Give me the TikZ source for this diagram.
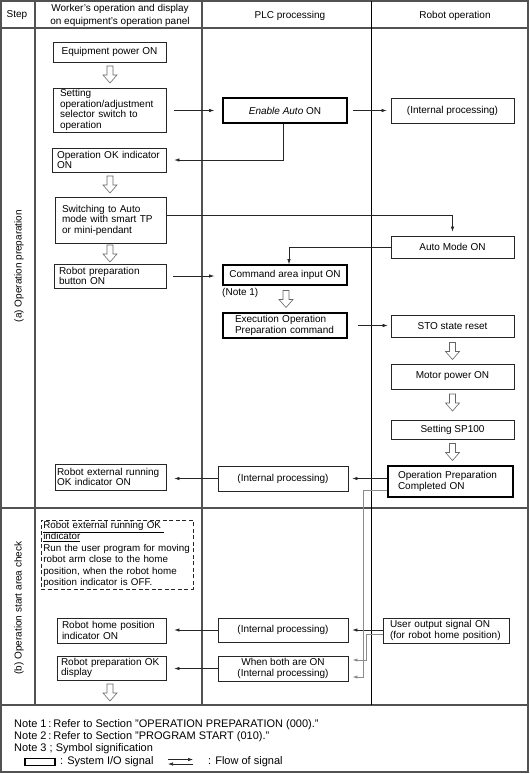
\documentclass[tikz,border=0pt]{standalone}
\usepackage{fontspec}
\setmainfont{Liberation Sans}
\usetikzlibrary{arrows.meta,calc}
\newcommand\bxfont{\fontsize{10}{10.5}\selectfont}
\newcommand\ntfont{\fontsize{11}{12}\selectfont}
\tikzset{
  tbl/.style={draw=black!68, line width=1.4pt},
  bx/.style={draw=black!85, line width=0.7pt, inner ysep=0pt, font=\bxfont},
  cbx/.style 2 args={bx, minimum width=#1, minimum height=#2, align=center, inner xsep=0pt},
  lbx/.style n args={3}{bx, text width=#1, inner xsep=#2, minimum height=#3, align=left},
  io/.style={line width=1.6pt, draw=black},
  arr/.style={draw=black!85, line width=0.6pt, -{Latex[length=5pt,width=3.4pt]}},
  garr/.style={arr, draw=black!45, line width=0.9pt},
  harrow/.style={draw=black!60, line width=0.6pt, fill=white},
  hollow/.pic={\path[harrow] (-3,-8.5) -- (3,-8.5) -- (3,0.5) -- (7,0.5) -- (0,8.5) -- (-7,0.5) -- (-3,0.5) -- cycle;}
}
\hyphenpenalty=10000
\exhyphenpenalty=10000
\begin{document}
\begin{tikzpicture}[x=1pt, y=-1pt]
\useasboundingbox (0,0) rectangle (530,774);
\fill[white] (0,0) rectangle (530,774);
% table frame
\draw[tbl] (1,1) rectangle (528,772);
\draw[tbl] (1,28) -- (528,28);
\draw[tbl] (1,508) -- (528,508);
\draw[tbl] (1,705) -- (528,705);
\draw[tbl] (35,1) -- (35,705);
\draw[tbl] (202,1) -- (202,705);
\draw[black, line width=0.8pt] (371,1) -- (371,705);
% headers
\node[font=\bxfont] (hstep) at (17,15.5) {Step};
\node[font=\fontsize{10}{13.5}\selectfont, align=center] (hwork) at (120,15.3) {Worker's operation and display\\on equipment's operation panel};
\node[font=\bxfont] (hplc) at (290,15.5) {PLC processing};
\node[font=\bxfont] (hrob) at (455,15.5) {Robot operation};
% section labels
\node[font=\bxfont, rotate=90] (seca) at (19,266) {(a) Operation preparation};
\node[font=\bxfont, rotate=90] (secb) at (19,608) {(b) Operation start area check};
% worker column
\node[cbx={113pt}{20pt}] (eq) at (109.5,52) {Equipment power ON};
\node[lbx={99pt}{7pt}{44pt}] (set) at (109.5,110) {Setting\\operation/adjustment\\selector switch to\\operation};
\node[lbx={104pt}{5pt}{24pt}] (opok) at (109,160) {Operation OK indicator\\ON};
\node[lbx={97pt}{7pt}{46pt}] (sw) at (110.5,220) {\mbox{Switching to Auto}\\\mbox{mode with smart TP}\\\mbox{or mini-pendant}};
\node[lbx={102pt}{5pt}{24pt}] (rp) at (110,276) {Robot preparation\\button ON};
\node[lbx={107pt}{2pt}{26pt}] (rext) at (110.5,477) {\mbox{Robot external running}\\OK indicator ON};
\node[draw=black!85, line width=0.6pt, dash pattern=on 4pt off 2.5pt, anchor=north west, text width=148pt, inner xsep=2pt, inner ysep=1pt, minimum height=68pt, align=left, font=\fontsize{9.8}{11.5}\selectfont] (dnote) at (41,520) {\underline{Robot external running OK\ }\\\underline{indicator}\\\mbox{Run the user program for moving}\\\mbox{robot arm close to the home}\\\mbox{position, when the robot home}\\\mbox{position indicator is OFF.}};
\node[lbx={99pt}{5pt}{25pt}] (home) at (111.5,630.5) {Robot home position\\indicator ON};
\node[lbx={101pt}{4pt}{24pt}] (rpok) at (111.5,668) {\mbox{Robot preparation OK}\\display};
% PLC column
\node[cbx={124pt}{25pt}, io] (ena) at (285,110.5) {\textit{Enable Auto} ON};
\node[cbx={124pt}{20pt}, io] (cmd) at (285,275) {Command area input ON};
\node[font=\bxfont, anchor=west, inner sep=0pt] (n1) at (222,293) {(Note 1)};
\node[lbx={100pt}{12pt}{25pt}, io] (exe) at (285,325.5) {\mbox{Execution Operation}\\\mbox{Preparation command}};
\node[cbx={130pt}{25pt}] (int1) at (283,478.5) {(Internal processing)};
\node[cbx={130pt}{24pt}] (int2) at (283,630) {(Internal processing)};
\node[cbx={130pt}{25pt}] (both) at (283,668.5) {When both are ON\\(Internal processing)};
% robot column
\node[cbx={123pt}{25pt}] (rint) at (452.5,110.5) {(Internal processing)};
\node[cbx={123pt}{22pt}] (auto) at (452.5,247) {Auto Mode ON};
\node[cbx={123pt}{22pt}] (sto) at (452.5,326) {STO state reset};
\node[cbx={123pt}{25pt}] (mot) at (452.5,376.5) {Motor power ON};
\node[cbx={123pt}{19pt}] (sp) at (452.5,429.5) {Setting SP100};
\node[lbx={105pt}{10pt}{31pt}, io] (opc) at (450.5,481.5) {\mbox{Operation Preparation}\\Completed ON};
\node[lbx={112pt}{7pt}{25pt}] (uo) at (446,630.5) {\mbox{User output signal ON}\\\mbox{(for robot home position)}};
% hollow step arrows
\pic at (110,74.5) {hollow};
\pic at (110,184.5) {hollow};
\pic at (110,253.5) {hollow};
\pic at (286,299) {hollow};
\pic at (452.5,351) {hollow};
\pic at (452.5,402.5) {hollow};
\pic at (452.5,452) {hollow};
\pic at (110,692.5) {hollow};
% signal connectors
\draw[arr, shorten <=8pt, shorten >=8pt] (set.east |- ena.west) -- (ena.west);
\draw[arr, shorten <=5pt, shorten >=4pt] (ena.east) -- (rint.west);
\draw[arr, shorten >=8pt] ([xshift=-2pt]ena.south) |- (opok.east);
\draw[arr, shorten >=4pt] ([yshift=5pt]sw.east) -| (auto.north);
\draw[arr] (auto.west) -| ([xshift=4pt]cmd.north);
\draw[arr, shorten <=7pt, shorten >=8pt] (rp.east) -- (rp.east -| cmd.west);
\draw[arr, shorten <=10pt, shorten >=3pt] (exe.east) -- (exe.east -| sto.west);
\draw[arr, shorten >=4pt] (opc.west |- int1.east) -- (int1.east);
\draw[arr, shorten >=8pt] (int1.west) -- (int1.west -| rext.east);
\draw[arr, shorten >=4pt] (uo.west |- int2.east) -- (int2.east);
\draw[arr, shorten >=8pt] (int2.west) -- (int2.west -| home.east);
\draw[garr, shorten >=4pt] ([yshift=-3.5pt]uo.west) -- ++(-16,0) |- ([yshift=8.5pt]both.east);
\draw[garr, shorten >=4pt] ([yshift=-8.5pt]opc.west) -- ++(-24,0) |- ([yshift=-8.5pt]both.east);
\draw[arr, shorten >=8pt] (both.west) -- (both.west -| rpok.east);
% notes
\node[font=\ntfont, anchor=west, inner sep=0pt] (note1) at (14,725) {Note 1\,:\,Refer to Section "OPERATION PREPARATION (000)."};
\node[font=\ntfont, anchor=west, inner sep=0pt] (note2) at (14,737) {Note 2\,:\,Refer to Section "PROGRAM START (010)."};
\node[font=\ntfont, anchor=west, inner sep=0pt] (note3) at (14,748.5) {Note 3 ; Symbol signification};
\node[io, minimum width=30pt, minimum height=7pt, inner sep=0pt] (lgbox) at (40,762) {};
\node[font=\ntfont, anchor=west, inner sep=0pt] (lgt1) at (60,762) {: System I/O signal};
\coordinate (lga1) at (168,759.5);
\coordinate (lga2) at (193,759.5);
\coordinate (lgb1) at (193,764);
\coordinate (lgb2) at (168,764);
\draw[arr] (lga1) -- (lga2);
\draw[arr] (lgb1) -- (lgb2);
\node[font=\ntfont, anchor=west, inner sep=0pt] (lgt2) at (208,762) {: Flow of signal};
\end{tikzpicture}
\end{document}
